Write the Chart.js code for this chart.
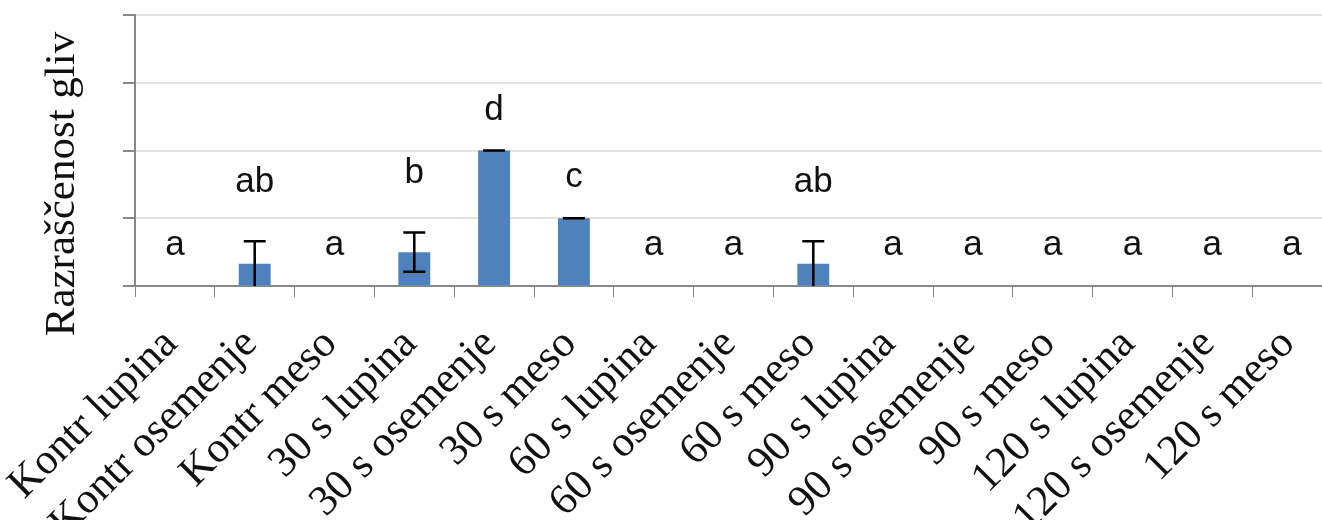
<!DOCTYPE html>
<html>
<head>
<meta charset="utf-8">
<script src="https://cdn.jsdelivr.net/npm/chart.js@4/dist/chart.umd.min.js"></script>
<style>
  html, body { margin: 0; padding: 0; background: #fff; overflow: hidden; }
</style>
</head>
<body>
<canvas id="chart" width="1340" height="520"></canvas>
<script>
const categories = [
  "Kontr lupina", "Kontr osemenje", "Kontr meso",
  "30 s lupina", "30 s osemenje", "30 s meso",
  "60 s lupina", "60 s osemenje", "60 s meso",
  "90 s lupina", "90 s osemenje", "90 s meso",
  "120 s lupina", "120 s osemenje", "120 s meso"
];
const values = [0, 0.33, 0, 0.5, 2, 1, 0, 0, 0.33, 0, 0, 0, 0, 0, 0];
const errors = [0, 0.33, 0, 0.29, 0, 0, 0, 0, 0.33, 0, 0, 0, 0, 0, 0];
const letters = ["a", "ab", "a", "b", "d", "c", "a", "a", "ab", "a", "a", "a", "a", "a", "a"];
const yTitle = "Razraščenost gliv";

// error bars plus the significance letters above each bar
const errorBars = {
  id: "errorBars",
  afterDatasetsDraw(chart) {
    const { ctx } = chart;
    const y = chart.scales.y;
    const bars = chart.getDatasetMeta(0).data;
    ctx.save();
    ctx.strokeStyle = "#000";
    ctx.lineWidth = 2.5;
    bars.forEach((bar, i) => {
      if (values[i] <= 0) return;
      const low = values[i] - errors[i];
      const hi = y.getPixelForValue(values[i] + errors[i]);
      const lo = y.getPixelForValue(Math.max(0, low));
      ctx.beginPath();
      ctx.moveTo(bar.x, hi);
      ctx.lineTo(bar.x, lo);
      ctx.moveTo(bar.x - 11, hi);
      ctx.lineTo(bar.x + 11, hi);
      if (low > 0.01) {
        ctx.moveTo(bar.x - 11, lo);
        ctx.lineTo(bar.x + 11, lo);
      }
      ctx.stroke();
    });

    ctx.fillStyle = "#111";
    ctx.font = "35px 'Liberation Sans', Arial, sans-serif";
    ctx.textAlign = "center";
    ctx.textBaseline = "alphabetic";
    bars.forEach((bar, i) => {
      const top = y.getPixelForValue(values[i] + errors[i]);
      ctx.fillText(letters[i], bar.x, top - (errors[i] > 0 ? 49 : 31));
    });
    ctx.restore();
  }
};

const sideTitle = {
  id: "sideTitle",
  afterDraw(chart) {
    const { ctx } = chart;
    ctx.save();
    ctx.translate(63, 184);
    ctx.rotate(-Math.PI / 2);
    ctx.fillStyle = "#111";
    ctx.font = "43px 'Liberation Serif', 'Times New Roman', serif";
    ctx.textAlign = "center";
    ctx.textBaseline = "middle";
    ctx.fillText(yTitle, 0, 0);
    ctx.restore();
  }
};

new Chart(document.getElementById("chart"), {
  type: "bar",
  data: {
    labels: categories,
    datasets: [{
      data: values,
      backgroundColor: "#4f81bd",
      barPercentage: 0.4,
      categoryPercentage: 1
    }]
  },
  options: {
    responsive: false,
    animation: false,
    devicePixelRatio: 1,
    layout: { padding: { top: 15, right: 8, left: 0, bottom: 0 } },
    plugins: {
      legend: { display: false },
      tooltip: { enabled: false }
    },
    scales: {
      x: {
        grid: { drawOnChartArea: false, tickLength: 11, tickColor: "#888", offset: true },
        border: { color: "#888", width: 2 },
        ticks: {
          autoSkip: false,
          minRotation: 45,
          maxRotation: 45,
          padding: 22,
          labelOffset: -4,
          color: "#111",
          font: { family: "'Liberation Serif', 'Times New Roman', serif", size: 43 }
        },
        afterFit(s) {
          s.height = 234;
          s.paddingLeft = 0;
          s.paddingRight = 0;
        }
      },
      y: {
        min: 0,
        max: 4,
        ticks: { stepSize: 1, display: false },
        grid: { color: "#e2e2e2", lineWidth: 2, tickLength: 12, tickColor: "#888" },
        border: { color: "#888", width: 2 },
        afterFit(s) {
          s.width = 135;
        }
      }
    }
  },
  plugins: [errorBars, sideTitle]
});
</script>
</body>
</html>
